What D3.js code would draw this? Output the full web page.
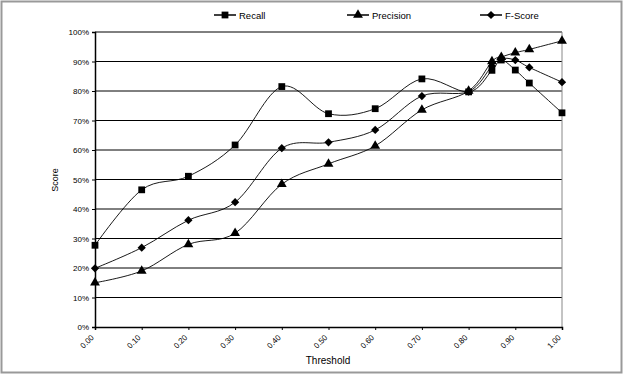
<!DOCTYPE html>
<html><head><meta charset="utf-8">
<script src="https://cdn.jsdelivr.net/npm/d3@7"></script>
<style>body{margin:0;background:#fff}svg{display:block}text{font-family:"Liberation Sans",Arial,sans-serif;fill:#000}</style>
</head><body>
<svg id="c" width="624" height="375"></svg>
<script>
const thresholds = [0.00,0.10,0.20,0.30,0.40,0.50,0.60,0.70,0.80,0.85,0.87,0.90,0.93,1.00];
const recall    = [27.7,46.5,51.1,61.7,81.5,72.3,74.0,84.1,79.7,87.0,90.5,87.1,82.7,72.6];
const precision = [15.0,19.0,28.0,31.8,48.4,55.3,61.4,73.6,80.0,90.0,91.5,93.0,94.1,97.0];
const fscore    = [19.9,26.9,36.2,42.3,60.6,62.6,66.8,78.3,79.8,88.5,91.0,90.5,88.0,83.0];
const seriesNames = ["Recall","Precision","F-Score"];
const xTicks = [0,0.1,0.2,0.3,0.4,0.5,0.6,0.7,0.8,0.9,1.0];
const yTicks = [0,10,20,30,40,50,60,70,80,90,100];

const svg = d3.select("#c");
const x = d3.scaleLinear().domain([0,1]).range([95,562]);
const y = d3.scaleLinear().domain([0,100]).range([327,32]);

// outer frame
svg.append("rect").attr("x",1.5).attr("y",1.5).attr("width",620).attr("height",371)
  .attr("fill","none").attr("stroke","#999").attr("stroke-width",2);

// gridlines
svg.append("g").selectAll("line").data(yTicks.filter(d=>d>0)).join("line")
  .attr("x1",x(0)).attr("x2",x(1)).attr("y1",d=>y(d)).attr("y2",d=>y(d))
  .attr("stroke","#000").attr("stroke-width",1);
// right plot border
svg.append("line").attr("x1",x(1)).attr("x2",x(1)).attr("y1",y(100)).attr("y2",y(0))
  .attr("stroke","#888").attr("stroke-width",1);

// y axis
const ya = svg.append("g").attr("transform",`translate(${x(0)},0)`)
  .call(d3.axisLeft(y).tickValues(yTicks).tickFormat(d=>d+"%").tickSize(3).tickPadding(3));
ya.select(".domain").attr("stroke","#000").attr("stroke-width",1.5);
ya.selectAll("text").style("font-size","8px").style("font-family","Liberation Sans, Arial");

// x axis
const xa = svg.append("g").attr("transform",`translate(0,${y(0)})`)
  .call(d3.axisBottom(x).tickValues(xTicks).tickFormat(d3.format(".2f")).tickSize(3));
xa.select(".domain").attr("stroke","#000").attr("stroke-width",1.5);
xa.selectAll("text").style("font-size","8px").style("font-family","Liberation Sans, Arial")
  .attr("text-anchor","end").attr("dy","0").attr("y",0)
  .attr("transform","translate(-1,11) rotate(-45)");

// titles
svg.append("text").attr("x",328).attr("y",364).attr("text-anchor","middle")
  .style("font-size","10px").text("Threshold");
svg.append("text").attr("transform","translate(58,180) rotate(-90)").attr("text-anchor","middle")
  .style("font-size","9px").text("Score");

// lines
const all = [recall,precision,fscore];
const line = d3.line().x((d,i)=>x(thresholds[i])).y(d=>y(d)).curve(d3.curveCatmullRom.alpha(0));
svg.append("g").selectAll("path").data(all).join("path")
  .attr("d",line).attr("fill","none").attr("stroke","#000").attr("stroke-width",0.9);

// markers
const sym = [d3.symbolSquare,d3.symbolTriangle,d3.symbolSquare];
const sizes = [46,42,34];
const rot = [0,0,45];
all.forEach((s,k)=>{
  svg.append("g").selectAll("path").data(s).join("path")
    .attr("transform",(d,i)=>`translate(${x(thresholds[i])},${y(d)}) rotate(${rot[k]})`)
    .attr("d",d3.symbol().type(sym[k]).size(sizes[k])).attr("fill","#000");
});

// legend
const legX = [214,347,480];
seriesNames.forEach((n,k)=>{
  const g = svg.append("g").attr("transform",`translate(${legX[k]},15)`);
  g.append("line").attr("x1",0).attr("x2",22).attr("y1",0).attr("y2",0).attr("stroke","#000").attr("stroke-width",1.5);
  g.append("path").attr("transform",`translate(11,0) rotate(${rot[k]})`).attr("d",d3.symbol().type(sym[k]).size(sizes[k])).attr("fill","#000");
  g.append("text").attr("x",25).attr("y",3.5).style("font-size","9.5px").text(n);
});
</script>
</body></html>
